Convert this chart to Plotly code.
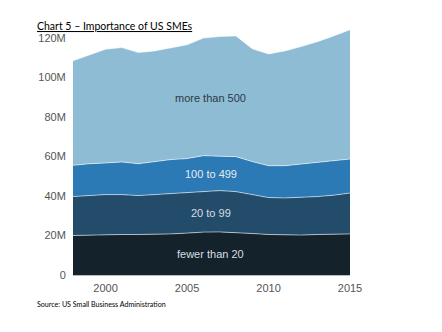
import plotly.graph_objects as go

years = list(range(1998, 2016))
fewer_than_20 = [20.0, 20.2, 20.5, 20.5, 20.5, 20.6, 20.8, 21.2, 21.7, 21.8, 21.5, 21.0, 20.5, 20.2, 20.2, 20.5, 20.7, 20.8]
from_20_to_99 = [19.7, 20.0, 20.2, 20.2, 19.7, 20.1, 20.4, 20.5, 20.7, 20.9, 20.7, 19.7, 18.7, 18.8, 19.0, 19.2, 19.7, 20.7]
from_100_to_499 = [15.8, 16.1, 16.0, 16.5, 16.1, 16.7, 17.2, 17.2, 18.0, 17.4, 17.7, 16.7, 16.1, 16.3, 16.9, 17.4, 17.5, 17.2]
more_than_500 = [52.9, 55.1, 57.6, 57.9, 56.3, 56.0, 56.7, 57.6, 59.5, 60.6, 61.1, 57.1, 56.6, 58.1, 59.5, 61.0, 63.1, 65.4]

series_names = ["fewer than 20", "20 to 99", "100 to 499", "more than 500"]
series_values = [fewer_than_20, from_20_to_99, from_100_to_499, more_than_500]
colors = ["#13222b", "#234c6b", "#2b79b5", "#8fbcd5"]
label_colors = ["#d8dde2", "#d8dde2", "#e4ecf3", "#2a3a45"]
label_pos = [(2006.45, 10.4), (2006.45, 31.6), (2006.45, 51.3), (2006.45, 89.7)]

y_ticks = [0, 20, 40, 60, 80, 100, 120]
y_ticktext = ["0", "20M", "40M", "60M", "80M", "100M", "120M"]
x_ticks = [2000, 2005, 2010, 2015]

fig = go.Figure()
for name, vals, col in zip(series_names, series_values, colors):
    fig.add_trace(go.Scatter(
        x=years, y=vals, name=name, stackgroup="one", mode="lines",
        line=dict(color="rgba(255,255,255,0.55)", width=1),
        fillcolor=col, hoverinfo="skip", showlegend=False))

for name, (lx, ly), lc in zip(series_names, label_pos, label_colors):
    fig.add_annotation(x=lx, y=ly, text=name, showarrow=False,
                       font=dict(family="Liberation Sans, Arial", size=11, color=lc))

fig.add_annotation(xref="paper", yref="paper", x=-0.136, y=0.975, xanchor="left", yanchor="bottom",
                   text="<u>Chart 5 – Importance of US SMEs</u>", showarrow=False,
                   font=dict(family="Lato, Open Sans", size=10.5, color="#000000"))
fig.add_annotation(xref="paper", yref="paper", x=-0.136, y=-0.095, xanchor="left", yanchor="top",
                   text="Source: US Small Business Administration", showarrow=False,
                   font=dict(family="Lato, Open Sans", size=7.1, color="#000000"))

fig.update_layout(
    width=442, height=332,
    margin=dict(l=72.5, r=92, t=28, b=56.5),
    plot_bgcolor="white", paper_bgcolor="white",
    xaxis=dict(range=[1998, 2015], tickvals=x_ticks, showgrid=False, zeroline=False,
               showline=True, linecolor="#bbbbbb", linewidth=1,
               ticks="outside", ticklen=3, tickcolor="rgba(0,0,0,0)",
               tickfont=dict(family="Liberation Sans, Arial", size=11, color="#555555")),
    yaxis=dict(range=[0, 125], tickvals=y_ticks, ticktext=y_ticktext, showgrid=False,
               zeroline=False, showline=False,
               ticks="outside", ticklen=4, tickcolor="rgba(0,0,0,0)",
               tickfont=dict(family="Liberation Sans, Arial", size=11, color="#555555")),
)

fig.write_html("out.html")
